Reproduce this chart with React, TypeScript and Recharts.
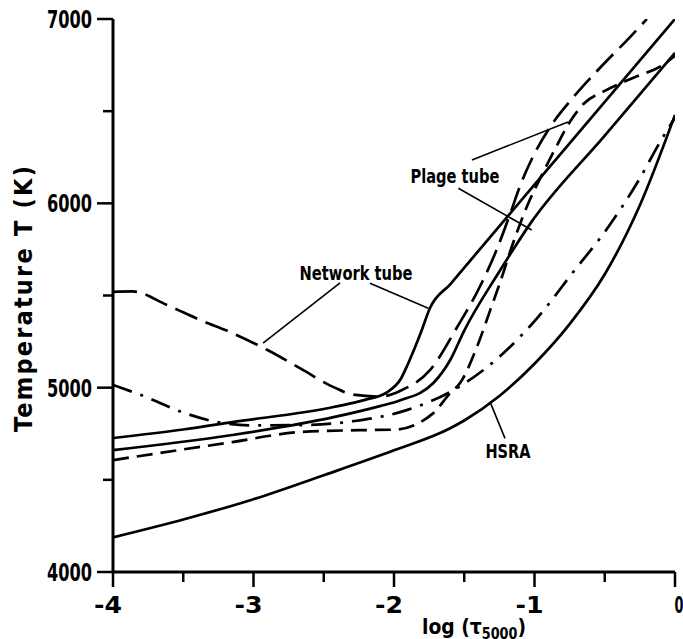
import React from "react";
import {
  LineChart,
  Line,
  XAxis,
  YAxis,
  ReferenceLine,
  ReferenceDot,
} from "recharts";

const FONT = "'Liberation Sans Narrow', 'DejaVu Sans Condensed', 'Liberation Sans', sans-serif";

const xTicks = [-4, -3.5, -3, -2.5, -2, -1.5, -1, -0.5, 0];
const yTicks = [4000, 4500, 5000, 5500, 6000, 6500, 7000];

// [log tau, T]
const hsra: [number, number][] = [
  [-4, 4188], [-3.5, 4285], [-3, 4395], [-2.5, 4525], [-2, 4660], [-1.6, 4780],
  [-1.5, 4822], [-1.25, 4955], [-1, 5130], [-0.75, 5345], [-0.5, 5615], [-0.25, 5990], [0, 6480],
];

const dashDot: [number, number][] = [
  [-4, 5015], [-3.75, 4945], [-3.5, 4865], [-3.25, 4812], [-3, 4795], [-2.67, 4797],
  [-2.28, 4819], [-1.91, 4878], [-1.54, 5003], [-1.22, 5188], [-0.975, 5383],
  [-0.73, 5622], [-0.48, 5866], [-0.27, 6110], [-0.09, 6354], [0, 6465],
];

const networkSolid: [number, number][] = [
  [-4, 4727], [-3.5, 4773], [-3.15, 4813], [-2.43, 4895], [-2.2, 4935], [-2.05, 4975],
  [-1.95, 5050], [-1.9, 5130], [-1.81, 5296], [-1.744, 5432], [-1.6, 5561], [-1, 6101],
  [-0.5, 6551], [0, 7000],
];

const networkDashed: [number, number][] = [
  [-4, 5520], [-3.86, 5522], [-3.62, 5450], [-3.38, 5367], [-3.15, 5296], [-2.9, 5204],
  [-2.67, 5106], [-2.43, 5003], [-2.29, 4962], [-2.1, 4952], [-1.95, 4985], [-1.744, 5095],
  [-1.55, 5329], [-1.39, 5546], [-1.27, 5747], [-1.17, 5950], [-1.1, 6100], [-1, 6270],
  [-0.89, 6413], [-0.73, 6570], [-0.53, 6738], [-0.32, 6902], [-0.2, 7000],
];

const plageSolid: [number, number][] = [
  [-4, 4661], [-3.15, 4743], [-2.43, 4840], [-2.1, 4900], [-1.96, 4930], [-1.72, 5025],
  [-1.6, 5150], [-1.5, 5310], [-1.25, 5630], [-1.03, 5890], [-0.5, 6367], [0, 6816],
];

const plageDashed: [number, number][] = [
  [-4, 4607], [-3.15, 4705], [-2.67, 4759], [-2.19, 4770], [-2, 4772], [-1.72, 4862],
  [-1.6, 4971], [-1.53, 5025], [-1.41, 5220], [-1.32, 5410], [-1.25, 5560], [-1.15, 5790],
  [-1.05, 5990], [-0.95, 6150], [-0.85, 6300], [-0.75, 6440], [-0.65, 6540], [-0.5, 6610],
  [-0.3, 6680], [-0.1, 6745], [0, 6800],
];

// label leader lines, [x1, T1, x2, T2]
const pointers: [number, number, number, number][] = [
  [-2.384, 5568, -2.932, 5242],
  [-2.171, 5566, -1.756, 5431],
  [-1.445, 6235, -0.762, 6441],
  [-1.542, 6082, -1.02, 5855],
  [-1.317, 4924, -1.21, 4725],
];

const notes: { text: string; x: number; t: number; w: number }[] = [
  { text: "Network tube", x: -2.27, t: 5622, w: 113 },
  { text: "Plage tube", x: -1.566, t: 6148, w: 89 },
  { text: "HSRA", x: -1.189, t: 4656, w: 45 },
];

const toRows = (pts: [number, number][]) => pts.map(([x, t]) => ({ x, t }));

const series = [
  { name: "hsra", pts: hsra, dash: undefined },
  { name: "dashdot", pts: dashDot, dash: "20 9 3 9" },
  { name: "netSolid", pts: networkSolid, dash: undefined },
  { name: "netDashed", pts: networkDashed, dash: "24 9" },
  { name: "plageSolid", pts: plageSolid, dash: undefined },
  { name: "plageDashed", pts: plageDashed, dash: "16 8" },
];

function XTick({ x, y, payload }: any) {
  const v = payload.value as number;
  const major = Number.isInteger(v);
  return (
    <g>
      <line x1={x} y1={y} x2={x} y2={y + (major ? 15 : 10)} stroke="#000" strokeWidth={2.5} />
      {major && (
        <text x={v === 0 ? x + 4 : x - 5} y={y + 41} textAnchor="middle" fontFamily={FONT}
          fontWeight="bold" fontSize={23} fill="#000" textLength={v === 0 ? 9 : 28}
          lengthAdjust="spacingAndGlyphs">
          {v === 0 ? "0" : "-" + Math.abs(v)}
        </text>
      )}
    </g>
  );
}

function YTick({ x, y, payload }: any) {
  const v = payload.value as number;
  const major = v % 1000 === 0;
  return (
    <g>
      <line x1={x} y1={y} x2={x - (major ? 16 : 10)} y2={y} stroke="#000" strokeWidth={2.5} />
      {major && (
        <text x={x - 21} y={y + 9} textAnchor="end" fontFamily={FONT} fontWeight="bold"
          fontSize={24} fill="#000" textLength={45} lengthAdjust="spacingAndGlyphs">
          {v}
        </text>
      )}
    </g>
  );
}

const yTitle = () => (
  <text x={23} y={299} transform="rotate(-90 23 299)" textAnchor="middle"
    dominantBaseline="central" fontFamily={FONT} fontWeight="bold" fontSize={25}
    textLength={266} lengthAdjust="spacing" fill="#000">
    Temperature T (K)
  </text>
);

const xTitle = () => (
  <text x={474} y={634} textAnchor="middle" fontFamily={FONT} fontWeight="bold"
    fontSize={22} fill="#000" textLength={104} lengthAdjust="spacingAndGlyphs">
    log (τ<tspan fontSize={15} dy={5}>5000</tspan><tspan dy={-5}>)</tspan>
  </text>
);

const note = (text: string, w: number) => (props: any) => {
  const vb = props.viewBox;
  const cx = vb.x + (vb.width || 0) / 2;
  const cy = vb.y + (vb.height || 0) / 2;
  return (
    <text x={cx} y={cy} textAnchor="middle" dominantBaseline="central" fontFamily={FONT}
      fontWeight="bold" fontSize={20} fill="#000" textLength={w}
      lengthAdjust="spacingAndGlyphs">
      {text}
    </text>
  );
};

export default function App() {
  return (
    <div style={{ position: "absolute", left: 0, top: 0, background: "#fff" }}>
      <LineChart width={683} height={639} margin={{ top: 19, right: 8, bottom: 0, left: 0 }}>
        <XAxis xAxisId="b" dataKey="x" type="number" domain={[-4, 0]} ticks={xTicks}
          interval={0} height={67} tickSize={0} tickMargin={0} tickLine={false}
          axisLine={{ stroke: "#000", strokeWidth: 3 }} tick={<XTick />} label={xTitle}
          allowDataOverflow />
        <XAxis xAxisId="t" dataKey="x" type="number" domain={[-4, 0]} orientation="top"
          height={0} tick={false} tickLine={false} axisLine={{ stroke: "#000", strokeWidth: 3 }}
          allowDataOverflow />
        <YAxis yAxisId="l" type="number" domain={[4000, 7000]} ticks={yTicks} interval={0}
          width={113} tickSize={0} tickMargin={0} tickLine={false}
          axisLine={{ stroke: "#000", strokeWidth: 3 }} tick={<YTick />} label={yTitle}
          allowDataOverflow />
        <YAxis yAxisId="r" type="number" domain={[4000, 7000]} orientation="right" width={0}
          tick={false} tickLine={false} axisLine={{ stroke: "#000", strokeWidth: 3 }}
          allowDataOverflow />
        {series.map((s) => (
          <Line key={s.name} xAxisId="b" yAxisId="l" data={toRows(s.pts)} dataKey="t"
            type="monotone" stroke="#000" strokeWidth={2.7} strokeDasharray={s.dash}
            dot={false} activeDot={false} isAnimationActive={false} />
        ))}
        {pointers.map(([x1, t1, x2, t2], i) => (
          <ReferenceLine key={"p" + i} xAxisId="b" yAxisId="l"
            segment={[{ x: x1, y: t1 }, { x: x2, y: t2 }]} stroke="#000" strokeWidth={1.6}
            ifOverflow="visible" />
        ))}
        {notes.map((n) => (
          <ReferenceDot key={n.text} xAxisId="b" yAxisId="l" x={n.x} y={n.t} r={0}
            fill="none" stroke="none" ifOverflow="visible" label={note(n.text, n.w)} />
        ))}
      </LineChart>
    </div>
  );
}
